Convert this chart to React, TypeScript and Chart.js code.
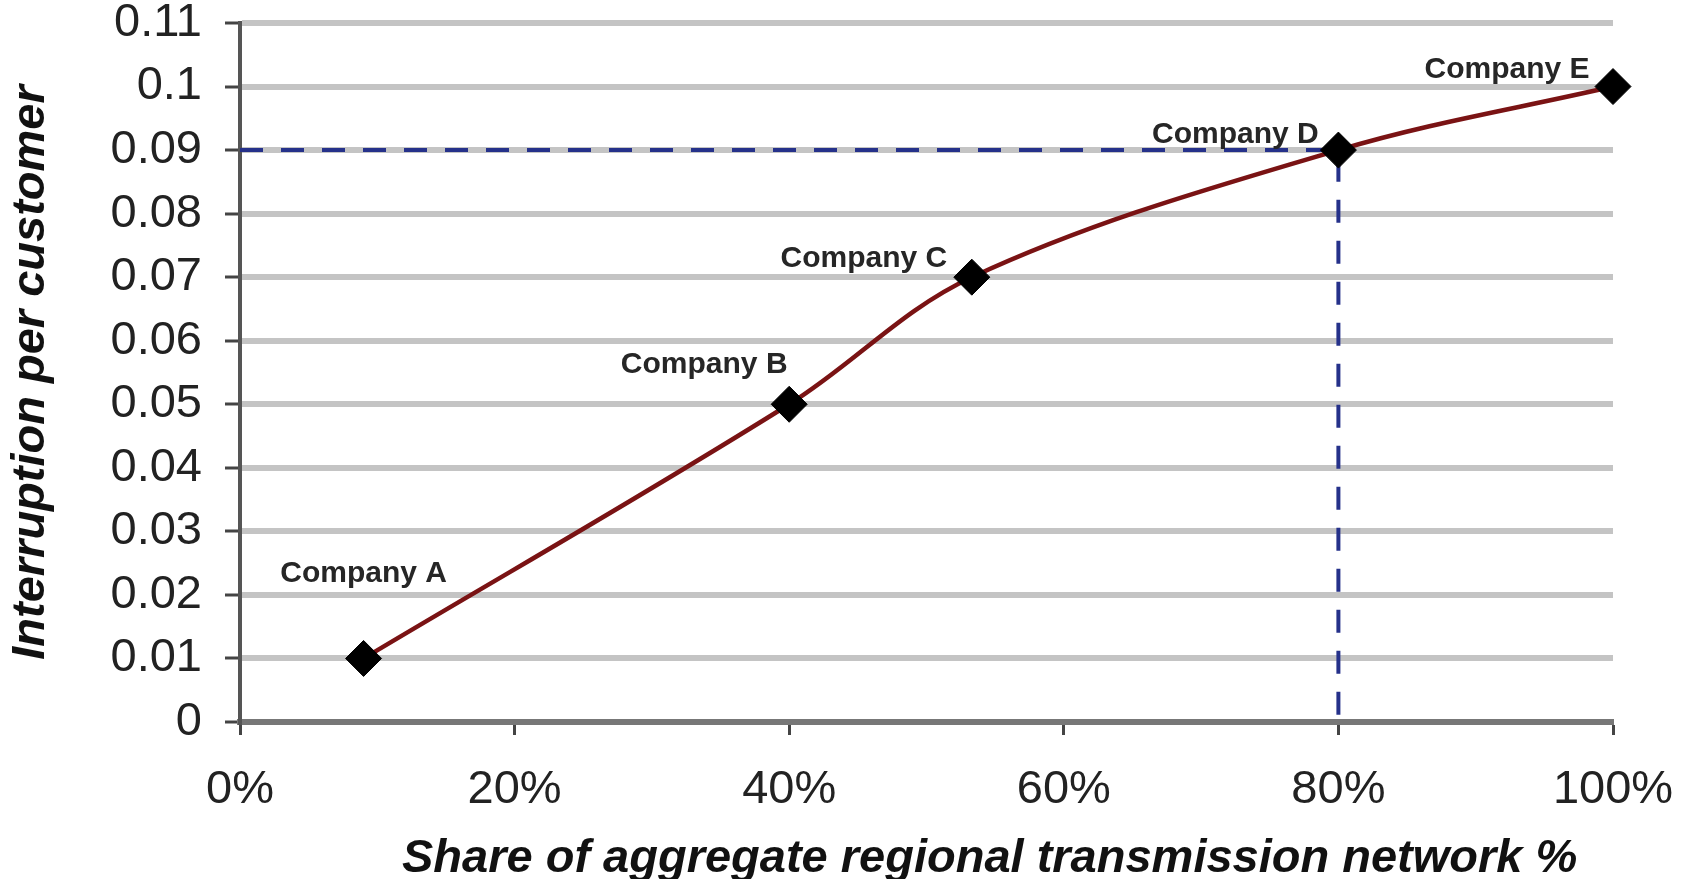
import { useEffect, useRef } from "react";
import { Chart, registerables } from "chart.js";

Chart.register(...registerables);

// ---- data ----
const companies = ["Company A", "Company B", "Company C", "Company D", "Company E"];
const networkShare = [9, 40, 53.3, 80, 100];
const interruptions = [0.01, 0.05, 0.07, 0.09, 0.1];
const xTickLabels = ["0%", "20%", "40%", "60%", "80%", "100%"];
const yTickLabels = ["0", "0.01", "0.02", "0.03", "0.04", "0.05", "0.06", "0.07", "0.08", "0.09", "0.1", "0.11"];
const refShare = 80;
const refInterruption = 0.09;
const xTitle = "Share of aggregate regional transmission network %";
const yTitle = "Interruption per customer";

// ---- label placement (pixels relative to each point) ----
const labelOffsets = [
  [0, -87],
  [-85, -42],
  [-108, -21],
  [-103, -18],
  [-106, -19],
];

const FONT = "'Liberation Sans', Arial, Helvetica, sans-serif";

const annotationPlugin = {
  id: "annotations",
  afterDatasetsDraw(chart: any) {
    const ctx = chart.ctx;
    const meta = chart.getDatasetMeta(0);
    ctx.save();
    // company labels
    ctx.font = `bold 30px ${FONT}`;
    ctx.fillStyle = "#262626";
    ctx.textAlign = "center";
    ctx.textBaseline = "alphabetic";
    companies.forEach((name, i) => {
      const pt = meta.data[i];
      if (!pt) return;
      const [dx, dy] = labelOffsets[i];
      ctx.fillText(name, pt.x + dx, pt.y + dy + 10.7);
    });
    // x axis title
    const area = chart.chartArea;
    ctx.font = `italic bold 47px ${FONT}`;
    ctx.fillStyle = "#111";
    ctx.textAlign = "center";
    ctx.fillText(xTitle, area.left + (area.right - area.left) * 0.546, 872);
    ctx.restore();
  },
};

export default function App() {
  const ref = useRef<HTMLCanvasElement | null>(null);

  useEffect(() => {
    if (!ref.current) return;
    const chart = new Chart(ref.current, {
      type: "line",
      data: {
        datasets: [
          {
            label: "Interruption per customer",
            data: networkShare.map((x, i) => ({ x, y: interruptions[i] })),
            borderColor: "#7a1314",
            borderWidth: 4.5,
            tension: 0.35,
            pointStyle: "rectRot",
            pointRadius: 18,
            pointBackgroundColor: "#000",
            pointBorderColor: "#000",
            pointBorderWidth: 1,
            clip: false as any,
            order: 0,
          },
          {
            label: "reference",
            data: [
              { x: 0, y: refInterruption },
              { x: refShare, y: refInterruption },
              { x: refShare, y: 0 },
            ],
            borderColor: "#25318a",
            borderWidth: 4,
            borderDash: [23, 18],
            pointRadius: 0,
            tension: 0,
            order: 1,
          },
        ],
      },
      options: {
        animation: false,
        responsive: false,
        devicePixelRatio: 1,
        layout: { padding: { top: 23, right: 77, bottom: 0, left: 0 } },
        plugins: {
          legend: { display: false },
          tooltip: { enabled: false },
        },
        scales: {
          x: {
            type: "linear",
            min: 0,
            max: 100,
            afterBuildTicks: (scale: any) => {
              scale.ticks = xTickLabels.map((l) => ({ value: parseFloat(l) }));
            },
            afterFit: (scale: any) => {
              scale.height = 157;
              scale.paddingLeft = 0;
              scale.paddingRight = 0;
            },
            ticks: {
              callback: (_v: any, i: number) => xTickLabels[i],
              font: { family: FONT, size: 47, lineHeight: 1 },
              color: "#222",
              padding: 32,
              maxRotation: 0,
              autoSkip: false,
            },
            grid: {
              drawOnChartArea: false,
              drawTicks: true,
              tickLength: 13,
              tickColor: "#444",
              tickWidth: 3,
            },
            border: { color: "#777", width: 6 },
          },
          y: {
            min: 0,
            max: 0.11,
            afterBuildTicks: (scale: any) => {
              scale.ticks = yTickLabels.map((l) => ({ value: parseFloat(l) }));
            },
            afterFit: (scale: any) => {
              scale.width = 240;
              scale.paddingTop = 0;
              scale.paddingBottom = 0;
            },
            ticks: {
              callback: (_v: any, i: number) => yTickLabels[i],
              font: { family: FONT, size: 47, lineHeight: 1 },
              color: "#222",
              padding: 23,
              autoSkip: false,
            },
            grid: {
              color: (c: any) => (c.tick && c.tick.value === 0 ? "#777" : "#c4c4c4"),
              lineWidth: 6,
              drawTicks: true,
              tickLength: 15,
              tickColor: "#444",
              tickWidth: 3,
            },
            border: { color: "#555", width: 4 },
            title: {
              display: true,
              text: yTitle,
              font: { family: FONT, size: 47, weight: "bold", style: "italic", lineHeight: 1 },
              color: "#111",
              padding: { top: 8, bottom: 0 },
            },
          },
        },
      },
      plugins: [annotationPlugin],
    } as any);
    return () => chart.destroy();
  }, []);

  return (
    <div style={{ position: "fixed", left: 0, top: 0, width: 1690, height: 879, background: "#fff" }}>
      <canvas ref={ref} width={1690} height={879} style={{ width: 1690, height: 879 }} />
    </div>
  );
}
